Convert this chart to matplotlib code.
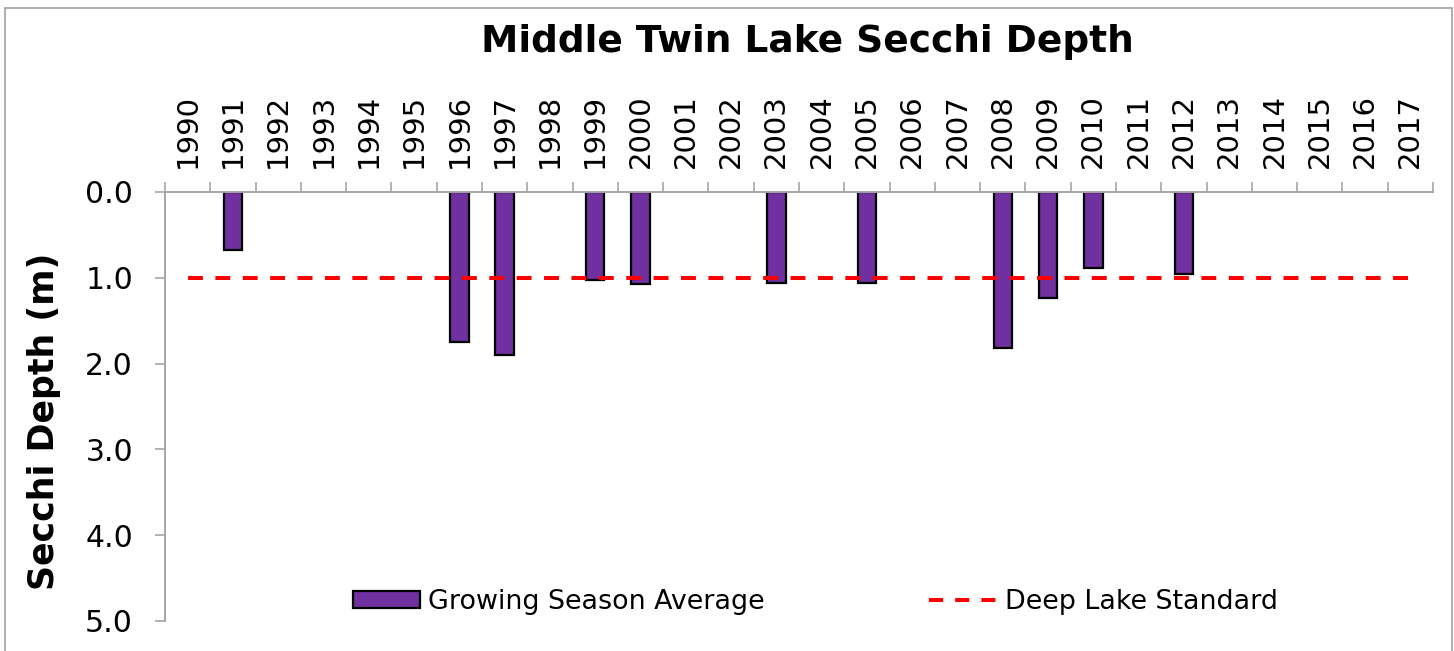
import numpy as np
import matplotlib
matplotlib.use("Agg")
import matplotlib.pyplot as plt
from matplotlib.patches import Rectangle
from matplotlib.lines import Line2D
from matplotlib.patches import Patch

years = [str(y) for y in range(1990, 2018)]
secchi = {
    "1991": 0.68, "1996": 1.75, "1997": 1.90, "1999": 1.02, "2000": 1.07,
    "2003": 1.06, "2005": 1.06, "2008": 1.82, "2009": 1.23, "2010": 0.89,
    "2012": 0.95,
}
growing_avg = [secchi.get(y, np.nan) for y in years]
standard_value = 1.0
standard = [standard_value] * len(years)

title = "Middle Twin Lake Secchi Depth"
ylabel = "Secchi Depth (m)"
ytick_values = [0.0, 1.0, 2.0, 3.0, 4.0, 5.0]

plt.rcParams['font.family'] = ['DejaVu Sans']

W, H = 1454, 651
fig = plt.figure(figsize=(W / 100, H / 100), dpi=100)
fig.patch.set_facecolor('white')

# outer chart border
fig.add_artist(Rectangle((5 / W, -0.02), (1452 - 5) / W, 1.02 - 8 / H,
                         transform=fig.transFigure, fill=False,
                         edgecolor='#a0a0a0', lw=1.2))

ax = fig.add_axes([165 / W, 1 - 621 / H, (1433 - 165) / W, (621 - 192) / H])
x = np.arange(len(years))

gray = '#a6a6a6'
bars = ax.bar(x, growing_avg, width=0.41, color='#7030A0', edgecolor='black',
              linewidth=1.6, zorder=2)
line, = ax.plot(x, standard, color='#ff0000', lw=2.9, zorder=3,
                dashes=(3.7, 3.1), solid_capstyle='butt', dash_capstyle='butt')

ax.set_xlim(-0.5, len(years) - 0.5)
ax.set_ylim(5.0, 0.0)

for s in ['right', 'bottom']:
    ax.spines[s].set_visible(False)
for s in ['top', 'left']:
    ax.spines[s].set_color(gray)
    ax.spines[s].set_linewidth(1.4)

ax.xaxis.set_ticks_position('top')
ax.set_xticks(np.arange(-0.5, len(years), 1.0))
ax.set_xticklabels([])
ax.set_xticks(x, minor=True)
ax.set_xticklabels(years, minor=True, rotation=90, fontsize=21)
ax.tick_params(axis='x', which='major', direction='out', length=7.5,
               color=gray, width=1.2)
ax.tick_params(axis='x', which='minor', length=0, pad=17)

ax.set_yticks(ytick_values)
ax.set_yticklabels([f"{v:.1f}" for v in ytick_values], fontsize=21.5)
ax.tick_params(axis='y', direction='out', length=7, color=gray, width=1.2,
               pad=16)

ax.set_ylabel(ylabel, fontsize=25, fontweight='bold')
ax.yaxis.set_label_coords(-0.082, 0.466)

fig.text(807 / W, 1 - 42 / H, title, fontsize=27, fontweight='bold',
         ha='center', va='center')

h1 = Patch(facecolor='#7030A0', edgecolor='black', linewidth=1.6)
h2 = Line2D([0], [0], color='#ff0000', lw=2.9, dashes=(3.5, 3.0),
            dash_capstyle='butt')
fig.legend([h1, h2], ["Growing Season Average", "Deep Lake Standard"],
           loc='center left', bbox_to_anchor=(353 / W, 1 - 602 / H),
           ncol=2, frameon=False, fontsize=19.4, borderpad=0,
           borderaxespad=0, handlelength=2.5, handleheight=0.55,
           handletextpad=0.3, columnspacing=6.1)

fig.savefig("out.png", dpi=100)
